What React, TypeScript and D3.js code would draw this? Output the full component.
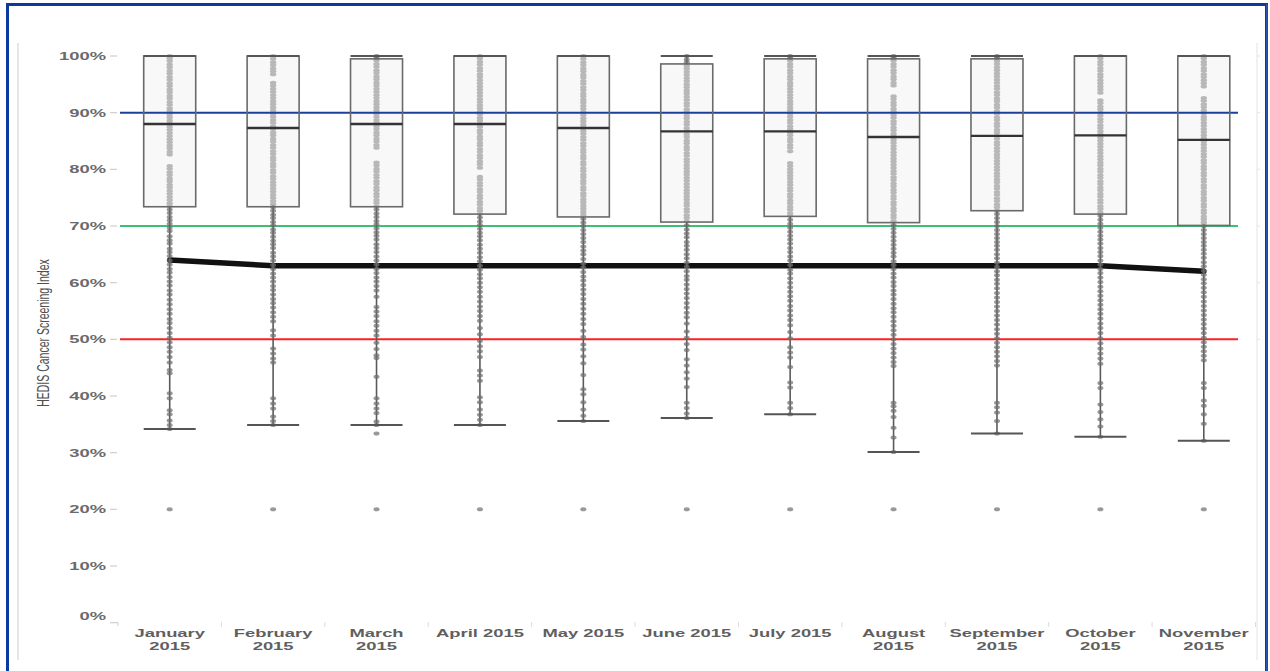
import React from "react";
import * as d3 from "d3";

// Monthly HEDIS cancer screening index, one box per month
const months = [
  "January 2015", "February 2015", "March 2015", "April 2015", "May 2015", "June 2015",
  "July 2015", "August 2015", "September 2015", "October 2015", "November 2015",
];
// how each month label wraps under its band
const monthLabelLines = [
  ["January", "2015"], ["February", "2015"], ["March", "2015"], ["April 2015"], ["May 2015"],
  ["June 2015"], ["July 2015"], ["August", "2015"], ["September", "2015"], ["October", "2015"],
  ["November", "2015"],
];

const upperWhisker = [100, 100, 100, 100, 100, 100, 100, 100, 100, 100, 100];
const q3 = [100, 100, 99.5, 100, 100, 98.6, 99.5, 99.5, 99.5, 100, 100];
const median = [88, 87.3, 88, 88, 87.3, 86.7, 86.7, 85.7, 85.9, 86, 85.2];
const q1 = [73.4, 73.4, 73.4, 72.1, 71.6, 70.7, 71.7, 70.6, 72.7, 72.1, 70.1];
const lowerWhisker = [34.2, 34.9, 34.9, 34.9, 35.6, 36.1, 36.8, 30.1, 33.4, 32.8, 32.1];

// overall index per month (thick black line)
const overallIndex = [64, 63, 63, 63, 63, 63, 63, 63, 63, 63, 62];

// target / threshold lines
const targetLines = [
  { value: 90, color: "#1c3f9c" },
  { value: 70, color: "#3fbf72" },
  { value: 50, color: "#ff1f1f" },
];

const yTicks = [0, 10, 20, 30, 40, 50, 60, 70, 80, 90, 100];

// individual provider scores per month
const janPts = [100, 99.6, 99.1, 98.5, 98.0, 97.4, 96.9, 96.3, 95.8, 95.2, 94.7, 94.1, 93.6, 93.0, 92.5, 91.9, 91.4, 90.8, 90.3, 89.7, 89.2, 88.6, 88.1, 87.5, 87.0, 86.4, 85.9, 85.3, 84.8, 84.2, 83.7, 83.1, 82.6, 80.6, 80.1, 79.5, 79.0, 78.4, 77.9, 77.3, 76.8, 76.2, 75.7, 75.1, 74.6, 74.0, 73.5, 72.9, 72.3, 71.6, 71.0, 70.4, 69.7, 69.1, 68.2, 67.5, 66.9, 66.0, 65.4, 64.7, 63.9, 63.2, 62.4, 61.8, 61.0, 60.2, 59.5, 58.6, 57.9, 57.0, 56.2, 55.3, 54.5, 53.6, 52.9, 52.0, 51.1, 50.3, 49.5, 48.6, 47.8, 46.9, 45.9, 44.6, 44.0, 40.5, 39.6, 37.5, 36.8, 35.7, 34.9, 34.2, 20];
const febPts = [100, 99.5, 98.9, 98.4, 97.8, 97.3, 96.8, 95.3, 94.8, 94.2, 93.7, 93.1, 92.6, 92.0, 91.5, 90.9, 90.4, 89.8, 89.3, 88.7, 88.2, 87.6, 87.1, 86.5, 86.0, 85.4, 84.9, 84.3, 83.8, 83.2, 82.7, 82.1, 81.6, 81.0, 80.5, 79.9, 79.4, 78.8, 78.3, 77.7, 77.2, 76.6, 76.1, 75.5, 75.0, 74.4, 73.9, 73.3, 72.7, 72.0, 71.4, 70.7, 70.1, 69.4, 68.8, 68.1, 67.4, 66.8, 66.1, 65.3, 64.6, 63.9, 63.1, 62.4, 61.6, 60.9, 60.2, 59.4, 58.7, 57.9, 57.1, 56.4, 55.6, 54.8, 54.0, 53.2, 51.6, 50.7, 48.4, 47.5, 46.6, 45.9, 39.6, 38.7, 37.8, 36.4, 35.6, 34.9, 20];
const marPts = [100, 99.7, 99.2, 98.6, 98.1, 97.5, 97.0, 96.4, 95.9, 95.3, 94.8, 94.2, 93.7, 93.1, 92.6, 92.0, 91.5, 90.9, 90.4, 89.8, 89.3, 88.7, 88.2, 87.6, 87.1, 86.5, 86.0, 85.4, 84.9, 84.3, 83.8, 81.2, 80.7, 80.1, 79.6, 79.0, 78.5, 77.9, 77.4, 76.8, 76.3, 75.7, 75.2, 74.6, 74.1, 73.5, 72.9, 72.2, 71.6, 70.9, 70.3, 69.6, 68.9, 68.3, 67.6, 66.8, 66.1, 65.4, 64.6, 63.9, 63.2, 62.4, 61.7, 60.9, 60.2, 59.4, 58.6, 57.5, 55.7, 54.9, 54.1, 53.2, 52.4, 51.5, 50.7, 49.4, 48.3, 47.2, 46.7, 43.4, 39.6, 38.7, 37.8, 37.0, 35.5, 34.9, 33.4, 20];
const aprPts = [100, 99.6, 99.0, 98.5, 97.9, 97.4, 96.8, 96.3, 95.7, 95.2, 94.6, 94.1, 93.5, 93.0, 92.4, 91.9, 91.3, 90.8, 90.2, 89.7, 89.1, 88.6, 88.0, 87.5, 86.9, 86.4, 85.8, 85.3, 84.7, 84.2, 83.6, 83.1, 82.5, 82.0, 81.4, 80.9, 80.3, 78.7, 78.2, 77.6, 77.1, 76.5, 76.0, 75.4, 74.9, 74.3, 73.8, 73.2, 72.7, 72.1, 71.5, 70.8, 70.2, 69.5, 68.8, 68.2, 67.5, 66.7, 66.0, 65.3, 64.5, 63.8, 63.0, 62.3, 61.5, 60.8, 60.0, 59.2, 58.4, 57.5, 56.7, 55.8, 55.0, 54.1, 53.3, 52.0, 50.9, 49.7, 48.8, 47.9, 46.9, 44.5, 43.6, 42.7, 39.8, 38.9, 37.6, 36.7, 35.8, 34.9, 20];
const mayPts = [100, 99.5, 98.9, 98.4, 97.8, 97.3, 96.7, 96.2, 95.6, 95.1, 94.5, 94.0, 93.4, 92.9, 92.3, 91.8, 91.2, 90.7, 90.1, 89.6, 89.0, 88.5, 87.9, 87.4, 86.8, 86.3, 85.7, 85.2, 84.6, 84.1, 83.5, 83.0, 82.4, 81.9, 81.3, 80.8, 80.2, 79.7, 79.1, 78.6, 78.0, 77.5, 76.9, 76.4, 75.8, 75.3, 74.7, 74.2, 73.6, 73.1, 72.5, 72.0, 71.3, 70.6, 70.0, 69.3, 68.6, 67.9, 67.2, 66.4, 65.7, 65.0, 64.2, 63.4, 62.7, 61.9, 61.1, 60.4, 59.6, 58.8, 58.0, 57.1, 56.3, 55.4, 54.5, 53.6, 52.7, 51.5, 50.4, 49.1, 48.2, 47.0, 45.8, 43.7, 41.2, 40.3, 38.9, 37.6, 36.5, 35.6, 20];
const junPts = [100, 99.4, 98.9, 98.3, 97.8, 97.2, 96.7, 96.1, 95.6, 95.0, 94.5, 93.9, 93.4, 92.8, 92.3, 91.7, 91.2, 90.6, 90.1, 89.5, 89.0, 88.4, 87.9, 87.3, 86.8, 86.2, 85.7, 85.1, 84.6, 84.0, 83.5, 82.9, 82.4, 81.8, 81.3, 80.7, 80.2, 79.6, 79.1, 78.5, 78.0, 77.4, 76.9, 76.3, 75.8, 75.2, 74.7, 74.1, 73.6, 73.0, 72.5, 71.9, 71.4, 70.8, 70.1, 69.4, 68.7, 68.0, 67.2, 66.5, 65.8, 65.0, 64.3, 63.5, 62.8, 62.0, 61.2, 60.5, 59.7, 58.9, 58.1, 57.3, 56.4, 55.6, 54.7, 53.9, 52.8, 51.4, 50.3, 49.2, 48.1, 46.5, 45.4, 44.2, 43.1, 41.6, 38.8, 37.9, 36.9, 36.1, 20];
const julPts = [100, 99.7, 99.2, 98.6, 98.1, 97.5, 97.0, 96.4, 95.9, 95.3, 94.8, 94.2, 93.7, 93.1, 92.6, 92.0, 91.5, 90.9, 90.4, 89.8, 89.3, 88.7, 88.2, 87.6, 87.1, 86.5, 86.0, 85.4, 84.9, 84.3, 83.8, 83.2, 81.1, 80.6, 80.0, 79.5, 78.9, 78.4, 77.8, 77.3, 76.7, 76.2, 75.6, 75.1, 74.5, 74.0, 73.4, 72.9, 72.3, 71.8, 71.1, 70.4, 69.7, 69.0, 68.3, 67.6, 66.9, 66.1, 65.4, 64.6, 63.9, 63.1, 62.3, 61.6, 60.8, 60.0, 59.2, 58.4, 57.6, 56.8, 55.9, 55.1, 54.2, 53.4, 52.5, 51.3, 50.2, 48.6, 47.7, 46.8, 45.1, 42.4, 41.5, 38.8, 37.9, 36.8, 20];
const augPts = [100, 99.7, 99.2, 98.6, 98.1, 97.5, 97.0, 96.4, 95.9, 95.3, 94.8, 92.9, 92.4, 91.8, 91.3, 90.7, 90.2, 89.6, 89.1, 88.5, 88.0, 87.4, 86.9, 86.3, 85.8, 85.2, 84.7, 84.1, 83.6, 83.0, 82.5, 81.9, 81.4, 80.8, 80.3, 79.7, 79.2, 78.6, 78.1, 77.5, 77.0, 76.4, 75.9, 75.3, 74.8, 74.2, 73.7, 73.1, 72.6, 72.0, 71.5, 70.9, 70.2, 69.5, 68.8, 68.1, 67.4, 66.7, 66.0, 65.3, 64.6, 63.8, 63.1, 62.4, 61.6, 60.9, 60.1, 59.4, 58.6, 57.9, 57.1, 56.3, 55.5, 54.8, 54.0, 53.2, 52.4, 51.6, 50.8, 50.0, 49.2, 48.4, 47.6, 46.8, 46.0, 45.3, 38.8, 38.2, 37.4, 36.3, 34.4, 32.7, 30.1, 20];
const sepPts = [100, 99.7, 99.1, 98.6, 98.0, 97.5, 96.9, 96.4, 95.8, 95.3, 94.7, 94.2, 93.6, 93.1, 92.5, 92.0, 91.4, 90.9, 90.3, 89.8, 89.2, 88.7, 88.1, 87.6, 87.0, 86.5, 85.9, 85.4, 84.8, 84.3, 83.7, 83.2, 82.6, 82.1, 81.5, 81.0, 80.4, 79.9, 79.3, 78.8, 78.2, 77.7, 77.1, 76.6, 76.0, 75.5, 74.9, 74.4, 73.8, 73.3, 72.7, 72.1, 71.4, 70.7, 70.0, 69.3, 68.6, 67.9, 67.2, 66.5, 65.8, 65.0, 64.3, 63.5, 62.8, 62.0, 61.3, 60.5, 59.8, 59.0, 58.2, 57.4, 56.6, 55.8, 55.0, 54.2, 53.4, 52.6, 51.8, 51.0, 50.2, 49.4, 48.6, 47.8, 47.0, 46.2, 45.4, 38.8, 38.0, 37.1, 35.6, 33.4, 20];
const octPts = [100, 99.6, 99.0, 98.5, 97.9, 97.4, 96.8, 96.3, 95.7, 95.2, 94.6, 94.1, 93.5, 92.2, 91.7, 91.1, 90.6, 90.0, 89.5, 88.9, 88.4, 87.8, 87.3, 86.7, 86.2, 85.6, 85.1, 84.5, 84.0, 83.4, 82.9, 82.3, 81.8, 81.2, 80.7, 80.1, 79.6, 79.0, 78.5, 77.9, 77.4, 76.8, 76.3, 75.7, 75.2, 74.6, 74.1, 73.5, 73.0, 72.4, 71.8, 71.1, 70.4, 69.7, 69.0, 68.3, 67.6, 66.9, 66.1, 65.4, 64.7, 63.9, 63.2, 62.4, 61.7, 60.9, 60.1, 59.3, 58.5, 57.7, 56.9, 56.1, 55.3, 54.5, 53.7, 52.8, 52.0, 51.1, 50.2, 49.3, 48.4, 47.5, 46.6, 45.7, 42.3, 41.4, 38.5, 37.2, 35.9, 34.6, 32.8, 20];
const novPts = [100, 99.6, 99.0, 98.5, 97.9, 97.4, 96.8, 96.3, 95.7, 95.2, 94.6, 92.6, 92.1, 91.5, 91.0, 90.4, 89.9, 89.3, 88.8, 88.2, 87.7, 87.1, 86.6, 86.0, 85.5, 84.9, 84.4, 83.8, 83.3, 82.7, 82.2, 81.6, 81.1, 80.5, 80.0, 79.4, 78.9, 78.3, 77.8, 77.2, 76.7, 76.1, 75.6, 75.0, 74.5, 73.9, 73.4, 72.8, 72.3, 71.7, 71.2, 70.6, 70.0, 69.3, 68.6, 67.9, 67.2, 66.5, 65.8, 65.1, 64.4, 63.6, 62.9, 62.1, 61.4, 60.6, 59.9, 59.1, 58.3, 57.5, 56.7, 55.9, 55.1, 54.3, 53.5, 52.7, 51.9, 51.1, 50.3, 49.5, 48.7, 47.9, 47.1, 46.3, 42.3, 41.4, 39.2, 38.3, 36.8, 35.1, 32.1, 20];
const monthPoints = [janPts, febPts, marPts, aprPts, mayPts, junPts, julPts, augPts, sepPts, octPts, novPts];

const W = 1270;
const H = 671;
const SX = 1.6; // horizontal stretch of the text glyphs

const x = d3.scaleBand<string>().domain(months).range([118, 1255.5]).paddingInner(0).paddingOuter(0);
const y = d3.scaleLinear().domain([0, 100]).range([622.7, 56]);
const boxW = 52;
const fmt = (v: number) => `${v}%`;

const labelFont = "'Liberation Sans', Arial, Helvetica, sans-serif";

export default function App() {
  const cx = (i: number) => (x(months[i]) as number) + x.bandwidth() / 2;
  const trendLine = d3
    .line<number>()
    .x((_, i) => cx(i))
    .y((v) => y(v));

  return (
    <svg width={W} height={H} style={{ position: "absolute", left: 0, top: 0, background: "#fff" }}>
      {/* frame */}
      <rect x={0} y={0} width={W} height={H} fill="#fff" />
      <line x1={18} x2={18} y1={43} y2={660} stroke="#e6e6e6" strokeWidth={2} />
      <line x1={1257} x2={1257} y1={43} y2={660} stroke="#ececec" strokeWidth={1.5} />
      {yTicks.slice(5).map((t) => (
        <line key={`rt${t}`} x1={1257} x2={1260} y1={y(t)} y2={y(t)} stroke="#e4e4e4" />
      ))}

      {/* y axis */}
      {yTicks.map((t) => (
        <g key={`yt${t}`}>
          <line x1={110} x2={117} y1={y(t)} y2={y(t)} stroke="#cfcfcf" strokeWidth={1.2} />
          <text
            transform={`translate(106,${y(t) + 4 - (t === 0 ? 7 : 0)}) scale(${SX},1)`}
            textAnchor="end"
            fontFamily={labelFont}
            fontWeight="bold"
            fontSize={11.5}
            fill="#6a6a6a"
          >
            {fmt(t)}
          </text>
        </g>
      ))}
      <text
        transform={`translate(49,333) scale(${SX},1) rotate(-90)`}
        textAnchor="middle"
        fontFamily="'Liberation Sans Narrow', 'Liberation Sans', Arial, sans-serif"
        fontSize={10.5}
        fill="#4f4f4f"
      >
        HEDIS Cancer Screening Index
      </text>

      {/* x axis ticks and labels */}
      <path d="M115,622.5 H118 V626" fill="none" stroke="#cfcfcf" strokeWidth={1} />
      {months.map((m) => (
        <line
          key={`xt${m}`}
          x1={(x(m) as number) + x.bandwidth()}
          x2={(x(m) as number) + x.bandwidth()}
          y1={622}
          y2={627}
          stroke="#dcdcdc"
          strokeWidth={1}
        />
      ))}
      {monthLabelLines.map((lines, i) => (
        <g key={`xl${i}`}>
          {lines.map((ln, j) => (
            <text
              key={ln}
              transform={`translate(${cx(i)},${636.5 + j * 13}) scale(${SX},1)`}
              textAnchor="middle"
              fontFamily={labelFont}
              fontWeight="bold"
              fontSize={11.5}
              fill="#5f5f5f"
            >
              {ln}
            </text>
          ))}
        </g>
      ))}

      {/* box fills and the points inside the boxes */}
      {months.map((m, i) => (
        <rect
          key={`bf${m}`}
          x={cx(i) - boxW / 2}
          y={y(q3[i])}
          width={boxW}
          height={y(q1[i]) - y(q3[i])}
          fill="#f8f8f8"
        />
      ))}
      {monthPoints.map((pts, i) =>
        pts
          .filter((v) => v >= q1[i] && v <= q3[i])
          .map((v, k) => (
            <ellipse key={`ip${i}-${k}`} cx={cx(i)} cy={y(v)} rx={3.2} ry={2} fill="#b8b8b8" />
          ))
      )}

      {/* target lines */}
      {targetLines.map((t) => (
        <line key={`tl${t.value}`} x1={120} x2={1238} y1={y(t.value)} y2={y(t.value)} stroke={t.color} strokeWidth={2} />
      ))}

      {/* overall index */}
      <path d={trendLine(overallIndex) || ""} fill="none" stroke="#111" strokeWidth={5.5} strokeLinecap="round" strokeLinejoin="round" />

      {/* whiskers and points outside the boxes */}
      {months.map((m, i) => (
        <g key={`wh${m}`}>
          <line x1={cx(i)} x2={cx(i)} y1={y(lowerWhisker[i])} y2={y(q1[i])} stroke="#5a5a5a" strokeWidth={1.6} />
          <line x1={cx(i)} x2={cx(i)} y1={y(upperWhisker[i])} y2={y(q3[i])} stroke="#5a5a5a" strokeWidth={1.6} />
        </g>
      ))}
      {monthPoints.map((pts, i) =>
        pts
          .filter((v) => v < q1[i] || v > q3[i])
          .map((v, k) => (
            <ellipse key={`op${i}-${k}`} cx={cx(i)} cy={y(v)} rx={3} ry={2} fill="#6e6e6e" fillOpacity={0.7} />
          ))
      )}

      {/* box outlines, medians and whisker caps */}
      {months.map((m, i) => (
        <g key={`bx${m}`}>
          <rect
            x={cx(i) - boxW / 2}
            y={y(q3[i])}
            width={boxW}
            height={y(q1[i]) - y(q3[i])}
            fill="none"
            stroke="#6a6a6a"
            strokeWidth={1.6}
          />
          <line x1={cx(i) - boxW / 2} x2={cx(i) + boxW / 2} y1={y(median[i])} y2={y(median[i])} stroke="#333" strokeWidth={2.4} />
          <line x1={cx(i) - boxW / 2} x2={cx(i) + boxW / 2} y1={y(upperWhisker[i])} y2={y(upperWhisker[i])} stroke="#555" strokeWidth={2} />
          <line x1={cx(i) - boxW / 2} x2={cx(i) + boxW / 2} y1={y(lowerWhisker[i])} y2={y(lowerWhisker[i])} stroke="#555" strokeWidth={2} />
        </g>
      ))}

      {/* blue frame */}
      <path d="M7.5,671 V4.5 H1266.5 V671" fill="none" stroke="#0a3a9c" strokeWidth={3} />
      <line x1={1266.8} x2={1266.8} y1={4} y2={671} stroke="#2a55b0" strokeWidth={1.6} />
    </svg>
  );
}
